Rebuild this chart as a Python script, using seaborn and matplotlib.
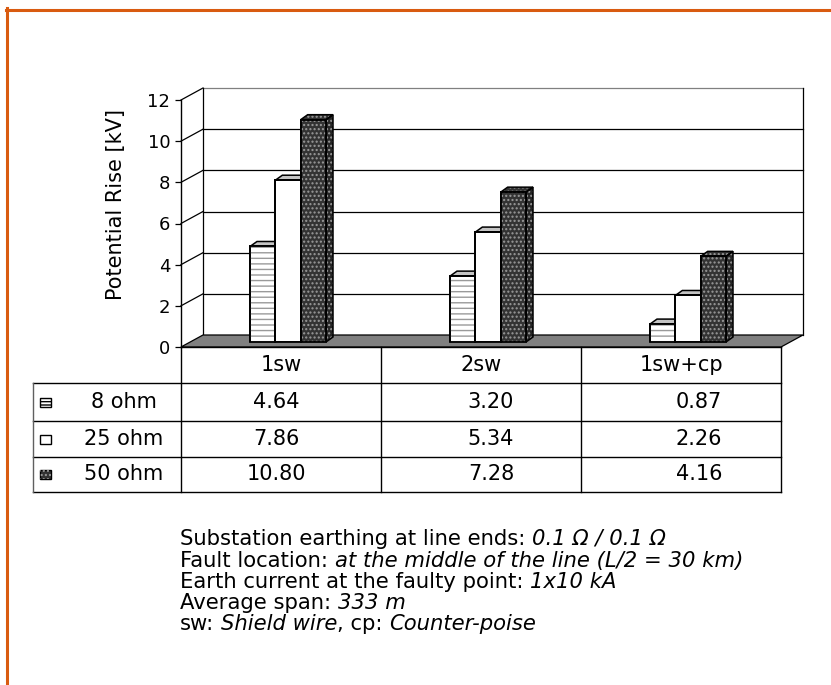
import matplotlib
matplotlib.use("Agg")
import matplotlib.pyplot as plt
import matplotlib.transforms as mtransforms
from matplotlib.patches import Rectangle, Polygon
from matplotlib.lines import Line2D
import pandas as pd
import seaborn as sns

# ---------------- data ----------------
configs = ["1sw", "2sw", "1sw+cp"]
series = ["8 ohm", "25 ohm", "50 ohm"]
vals_8 = [4.64, 3.20, 0.87]
vals_25 = [7.86, 5.34, 2.26]
vals_50 = [10.80, 7.28, 4.16]
y_ticks = [0, 2, 4, 6, 8, 10, 12]
y_label = "Potential Rise [kV]"
notes = [
    [("Substation earthing at line ends:", False), (" 0.1 \u03a9 / 0.1 \u03a9", True)],
    [("Fault location:", False), (" at the middle of the line (L/2 = 30 km)", True)],
    [("Earth current at the faulty point:", False), (" 1x10 kA", True)],
    [("Average span:", False), (" 333 m", True)],
    [("sw:", False), (" Shield wire", True), (", cp:", False), (" Counter-poise", True)],
]

# ---------------- style ----------------
plt.rcParams["font.family"] = ["DejaVu Sans"]
plt.rcParams["hatch.linewidth"] = 1.0
W, H = 831, 685
ORANGE = "#D95B10"
FACE = ["white", "white", "#333333"]
TOPC = ["#c4c4c4", "#c4c4c4", "#333333"]
SIDEC = ["#a0a0a0", "#a0a0a0", "#262626"]
HATCH = ["---", None, "...."]
HATCHC = ["#9a9a9a", None, "#9a9a9a"]

fig = plt.figure(figsize=(W / 100, H / 100), dpi=100)
fig.patch.set_facecolor("white")
T_px = mtransforms.Affine2D().scale(1 / 100, -1 / 100).translate(0, H / 100) + fig.dpi_scale_trans


def fig_rect(x0, y_top, w, h):
    return [x0 / W, (H - y_top - h) / H, w / W, h / H]


PLOT_W, PLOT_H = 600, 247
FRONT_L, FRONT_B = 181, 347
axf = fig.add_axes(fig_rect(FRONT_L, FRONT_B - PLOT_H, PLOT_W, PLOT_H))
ax = fig.add_axes(fig_rect(FRONT_L + 7, FRONT_B - 5 - PLOT_H, PLOT_W, PLOT_H))
for a in (axf, ax):
    a.set_xlim(-0.5, 2.5)
    a.set_ylim(0, 12)
    a.patch.set_visible(False)

PX = 3 / PLOT_W
PY = 12 / PLOT_H
fdx, fdy = -7 * PX, -5 * PY      # front plane relative to bar plane
bdx, bdy = 15 * PX, 7 * PY       # back wall relative to bar plane
ddx, ddy = 7 * PX, 5 * PY        # bar depth

# ---------------- bars (seaborn) ----------------
df = pd.DataFrame({
    "config": configs * 3,
    "series": [s for s in series for _ in configs],
    "value": vals_8 + vals_25 + vals_50,
})
sns.barplot(data=df, x="config", y="value", hue="series", order=configs,
            hue_order=series, palette=FACE, width=0.38, gap=0, saturation=1,
            edgecolor="black", linewidth=1.3, legend=False, errorbar=None,
            ax=ax, zorder=3)
ax.set_xlim(-0.5, 2.5)
ax.set_ylim(0, 12)
ax.axis("off")

# ---------------- walls / floor ----------------
ax.add_patch(Rectangle((-0.5 + bdx, bdy), 3, 12, facecolor="white", edgecolor="none",
                       zorder=0.5, clip_on=False))
for t in y_ticks[1:]:
    col = "#808080" if t == y_ticks[-1] else "black"
    ax.add_line(Line2D([-0.5 + fdx, -0.5 + bdx], [t + fdy, t + bdy], color="black",
                       lw=0.9, zorder=0.6, clip_on=False))
    ax.add_line(Line2D([-0.5 + bdx, 2.5 + bdx], [t + bdy, t + bdy], color=col,
                       lw=0.9, zorder=0.6, clip_on=False))
ax.add_line(Line2D([-0.5 + bdx, -0.5 + bdx], [bdy, 12 + bdy], color="black", lw=0.9,
                   zorder=0.7, clip_on=False))
ax.add_line(Line2D([2.5 + bdx, 2.5 + bdx], [bdy, 12 + bdy], color="black", lw=0.9,
                   zorder=0.7, clip_on=False))
ax.add_patch(Polygon([(-0.5 + fdx, fdy), (2.5 + fdx, fdy), (2.5 + bdx, bdy), (-0.5 + bdx, bdy)],
                     closed=True, facecolor="#808080", edgecolor="black", lw=0.9,
                     zorder=1, clip_on=False))

# ---------------- 3D faces & patterns ----------------
for k, cont in enumerate(ax.containers):
    for p in cont.patches:
        x0, w, h = p.get_x(), p.get_width(), p.get_height()
        side = [(x0 + w, 0), (x0 + w + ddx, ddy), (x0 + w + ddx, h + ddy), (x0 + w, h)]
        top = [(x0, h), (x0 + w, h), (x0 + w + ddx, h + ddy), (x0 + ddx, h + ddy)]
        for poly, fc in ((side, SIDEC[k]), (top, TOPC[k])):
            ax.add_patch(Polygon(poly, closed=True, facecolor=fc, edgecolor="none",
                                 zorder=2, clip_on=False))
            if k == 2:
                ax.add_patch(Polygon(poly, closed=True, fill=False, hatch=HATCH[k],
                                     edgecolor=HATCHC[k], lw=0, zorder=2.1, clip_on=False))
            ax.add_patch(Polygon(poly, closed=True, fill=False, edgecolor="black",
                                 lw=1.1, zorder=2.2, clip_on=False))
        if HATCH[k]:
            ax.add_patch(Rectangle((x0, 0), w, h, fill=False, hatch=HATCH[k],
                                   edgecolor=HATCHC[k], lw=0, zorder=3.5, clip_on=False))
        ax.add_patch(Rectangle((x0, 0), w, h, fill=False, edgecolor="black",
                               lw=1.3, zorder=3.6, clip_on=False))

# ---------------- front axis ----------------
for s in ("top", "right", "bottom"):
    axf.spines[s].set_visible(False)
axf.spines["left"].set_linewidth(1.0)
axf.set_xticks([])
axf.set_yticks(y_ticks)
axf.set_yticklabels([str(t) for t in y_ticks])
axf.tick_params(axis="y", direction="out", length=4.3, width=0.9, pad=3.5,
                labelsize=13)
axf.set_ylabel(y_label, fontsize=15)
axf.yaxis.set_label_coords((126 - FRONT_L) / PLOT_W, (FRONT_B - 204) / PLOT_H)

# ---------------- data table ----------------
TB = mtransforms.blended_transform_factory(axf.transData, T_px)
row_y = [347, 383, 421, 457, 492]
LEG_L = -0.5 + (33 - FRONT_L) * PX
tl = dict(color="black", lw=1.0, transform=TB, clip_on=False)
fig.add_artist(Line2D([-0.5, 2.5], [row_y[0]] * 2, **tl))
for yy in row_y[1:]:
    fig.add_artist(Line2D([LEG_L, 2.5], [yy, yy], **tl))
for xb in [-0.5, 0.5, 1.5, 2.5]:
    fig.add_artist(Line2D([xb, xb], [row_y[0], row_y[-1]], **tl))
fig.add_artist(Line2D([LEG_L, LEG_L], [row_y[1], row_y[-1]], color="#606060", lw=1.0,
                      transform=TB, clip_on=False))

FS = 15
for i, c in enumerate(configs):
    fig.text(i, (row_y[0] + row_y[1]) / 2, c, transform=TB, ha="center",
             va="center", fontsize=FS)
value_dx = [-5, 10, 18]
all_vals = [vals_8, vals_25, vals_50]
for r, (sname, vals) in enumerate(zip(series, all_vals)):
    yc = (row_y[r + 1] + row_y[r + 2]) / 2
    for i, v in enumerate(vals):
        fig.text(i + value_dx[i] * PX, yc, f"{v:.2f}", transform=TB, ha="center",
                 va="center", fontsize=FS)
    fig.text(124, yc, sname, transform=T_px, ha="center", va="center", fontsize=FS)
    sw = Rectangle((40, yc - 4.5), 11, 9, transform=T_px, facecolor=FACE[r],
                   edgecolor="black", lw=1.0)
    fig.add_artist(sw)
    if HATCH[r]:
        hc = "black" if r == 0 else HATCHC[r]
        fig.add_artist(Rectangle((40, yc - 4.5), 11, 9, transform=T_px, fill=False,
                                 hatch="-----" if r == 0 else HATCH[r], edgecolor=hc, lw=0))

# ---------------- notes ----------------
baselines = [545, 567, 588, 609, 630]
NFS = 15.2
space_pt = 0.318 * NFS
for segs, yb in zip(notes, baselines):
    prev = None
    for txt, ital in segs:
        style = "italic" if ital else "normal"
        lead = txt.startswith(" ")
        body = txt.strip()
        if prev is None:
            prev = fig.text(180, yb, body, transform=T_px, ha="left", va="baseline",
                            fontsize=NFS, fontstyle=style)
        else:
            prev = fig.add_artist(matplotlib.text.Annotation(
                body, xy=(1, 0), xycoords=prev, xytext=(space_pt if lead else 0, 0),
                textcoords="offset points", ha="left", va="bottom",
                fontsize=NFS, fontstyle=style))

# ---------------- orange frame ----------------
fig.add_artist(Line2D([6, W], [9.5, 9.5], color=ORANGE, lw=2.2, transform=T_px))
fig.add_artist(Line2D([7, 7], [8, H], color=ORANGE, lw=2.2, transform=T_px))

fig.savefig("out.png", dpi=100)
